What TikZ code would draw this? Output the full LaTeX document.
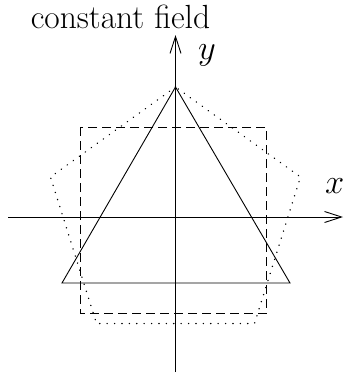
\documentclass[tikz,border=0pt]{standalone}
\usepackage{fix-cm}
\usetikzlibrary{arrows.meta}
\tikzset{
  axis/.style={line width=0.9pt,-{Straight Barb[length=17pt,width=11pt,line width=0.9pt]}},
  tri/.style={line width=0.9pt,line join=miter},
  sq/.style={line width=0.9pt,dash pattern=on 9pt off 5pt},
  pent/.style={line width=1.5pt,line cap=round,dash pattern=on 0.1pt off 7.3pt},
  lbl/.style={inner sep=0pt,font=\fontsize{34.5}{41}\selectfont},
  ttl/.style={inner sep=0pt,font=\fontsize{33.5}{40}\selectfont}
}
\begin{document}
\begin{tikzpicture}[x=1pt,y=-1pt]
\useasboundingbox (0,0) rectangle (343,375);
% axes
\coordinate (xs) at (8,217);
\coordinate (xe) at (343,217);
\coordinate (ys) at (175.5,372);
\coordinate (ye) at (175.5,35);
\draw[axis] (xs) -- (xe);
\draw[axis] (ys) -- (ye);
% triangle
\coordinate (t1) at (175.5,87);
\coordinate (t2) at (62,283);
\coordinate (t3) at (290,283);
\draw[tri] (t1) -- (t2) -- (t3) -- cycle;
% square
\coordinate (s1) at (80,127);
\coordinate (s2) at (266.5,313);
\draw[sq] (s1) rectangle (s2);
% pentagon
\coordinate (p1) at (175.5,87);
\coordinate (p2) at (50.5,177);
\coordinate (p3) at (96.5,323.5);
\coordinate (p4) at (254.5,323.5);
\coordinate (p5) at (300.5,177);
\draw[pent] (p1) -- (p2) -- (p3) -- (p4) -- (p5) -- cycle;
% labels
\node[ttl,anchor=base] (title) at (120.5,28) {constant field};
\node[lbl,anchor=base west] (ylab) at (198,59) {$y$};
\node[lbl,anchor=base west] (xlab) at (325,193) {$x$};
\end{tikzpicture}
\end{document}
